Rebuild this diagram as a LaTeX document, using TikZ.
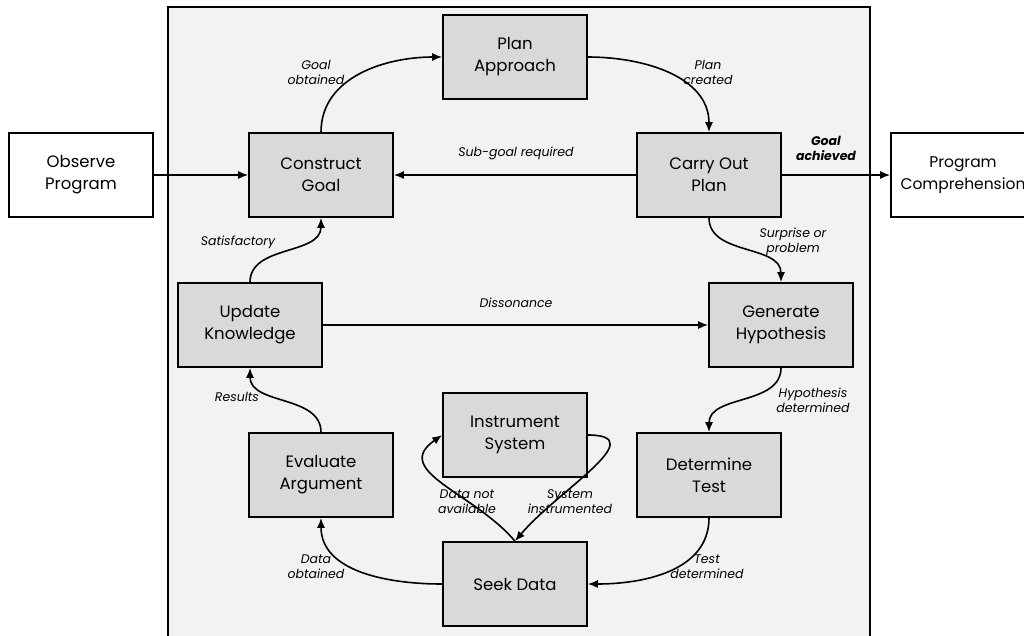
\documentclass[tikz,border=0pt]{standalone}
\usepackage{fontspec}
\setmainfont{Poppins}
\usetikzlibrary{arrows.meta}
\definecolor{panelgray}{HTML}{F2F2F2}
\definecolor{boxgray}{HTML}{D9D9D9}
\tikzset{
  stage/.style={draw=black, line width=1.6pt, fill=boxgray, minimum width=144pt,
    minimum height=84pt, inner sep=0pt, align=center, font=\fontsize{16.5}{22}\selectfont},
  outer/.style={stage, fill=white},
  flow/.style={line width=1.6pt, -{Latex[length=10pt,width=8pt]}},
  lbl/.style={font=\fontsize{12.5}{15}\selectfont\itshape, align=center, inner sep=0pt},
}
\begin{document}
\begin{tikzpicture}[x=1pt,y=-1pt]
\useasboundingbox (0,0) rectangle (1024,635);
\clip (0,0) rectangle (1024,635);
% process panel
\draw[line width=1.6pt, fill=panelgray] (168,7) rectangle (870,650);

% stages
\node[stage] (plan)   at (515,57)  {Plan\\Approach};
\node[stage] (goal)   at (321,175) {Construct\\Goal};
\node[stage] (carry)  at (709,175) {Carry Out\\Plan};
\node[stage] (update) at (250,325) {Update\\Knowledge};
\node[stage] (hyp)    at (781,325) {Generate\\Hypothesis};
\node[stage] (instr)  at (515,435) {Instrument\\System};
\node[stage] (eval)   at (321,475) {Evaluate\\Argument};
\node[stage] (test)   at (709,475) {Determine\\Test};
\node[stage] (seek)   at (515,584) {Seek Data};

% outside the panel
\node[outer] (obs)  at (81,175)  {Observe\\Program};
\node[outer, font=\fontsize{15.5}{22}\selectfont] (comp) at (963,175) {Program\\Comprehension};

% straight connectors
\draw[flow] (obs) -- (goal);
\draw[flow] (carry) -- (goal);
\draw[flow] (carry) -- (comp);
\draw[flow] (update) -- (hyp);

% curved connectors
\draw[flow] (goal.north) to[out=90,in=180] (plan.west);
\draw[flow] (plan.east) to[out=0,in=90] (carry.north);
\draw[flow] (carry.south) to[out=-90,in=90] (hyp.north);
\draw[flow] (hyp.south) to[out=-90,in=90] (test.north);
\draw[flow] (test.south) to[out=-90,in=0] (seek.east);
\draw[flow] (seek.west) to[out=180,in=-90] (eval.south);
\draw[flow] (eval.north) to[out=90,in=-90] (update.south);
\draw[flow] (update.north) to[out=90,in=-90] (goal.south);
\draw[flow] (seek.north) to[out=130,in=215,looseness=1.25] (instr.west);
\draw[flow] (instr.east) to[out=0,in=50,looseness=1.3] (seek.north);

% connector labels
\node[lbl] (l1)  at (316,72)  {Goal\\obtained};
\node[lbl] (l2)  at (708,72)  {Plan\\created};
\node[lbl] (l3)  at (516,153) {Sub-goal required};
\node[lbl, font=\fontsize{12.5}{15}\selectfont\itshape\bfseries] (l4) at (826,148) {Goal\\achieved};
\node[lbl] (l5)  at (238,242) {Satisfactory};
\node[lbl] (l6)  at (793,242) {Surprise or\\problem};
\node[lbl] (l7)  at (516,303) {Dissonance};
\node[lbl] (l8)  at (237,397) {Results};
\node[lbl] (l9)  at (813,400) {Hypothesis\\determined};
\node[lbl] (l10) at (467,502) {Data not\\available};
\node[lbl] (l11) at (570,502) {System\\instrumented};
\node[lbl] (l12) at (316,567) {Data\\obtained};
\node[lbl] (l13) at (707,567) {Test\\determined};
\end{tikzpicture}
\end{document}
